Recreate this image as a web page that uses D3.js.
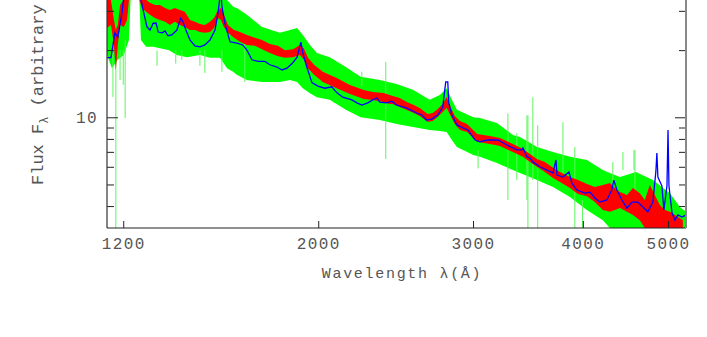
<!DOCTYPE html>
<html>
<head>
<meta charset="utf-8">
<script src="https://cdn.jsdelivr.net/npm/d3@7"></script>
<style>
body { margin: 0; background: #fff; }
text { font-family: "Liberation Mono", "DejaVu Sans Mono", monospace; fill: #555; }
</style>
</head>
<body>
<div id="spectrum"></div>
<script>
// composite spectrum (wavelength in Angstrom, flux arbitrary)
var greenWave = [1150,1165,1183,1202,1218,1224,1251,1257,1274,1298,1353,1381,1418,1467,1506,1546,1575,1600,1616,1659,1726,1809,1857,1892,1921,1957,1993,2061,2150,2235,2350,2456,2563,2678,2750,2800,2838,2876,3002,3055,3194,3330,3392,3482,3546,3699,3867,4043,4215,4293,4408,4596,4805,5025,5158,5241];
var greenHi = [37.2,37.2,41.3,41.3,45.8,50.7,50.7,45.8,43.5,41.3,39.2,39.2,37.2,37.2,35.4,37.2,33.6,31.3,30.9,28.8,25.4,23.9,24.6,25.1,23.4,21.1,19.4,18.6,16.8,15.2,14.7,14.1,13.3,12.0,12.6,13.5,12.0,10.8,10.0,9.93,9.43,8.33,8.15,7.68,7.36,6.99,6.65,6.44,5.80,5.63,5.40,5.69,5.23,4.57,3.96,3.77];
var greenLo = [19.0,16.6,18.1,19.0,22.2,35.4,35.4,22.2,20.7,20.7,20.0,19.0,18.6,19.0,18.5,18.5,16.6,16.0,15.5,14.7,14.4,14.4,14.7,14.4,13.5,12.8,12.3,12.0,10.8,10.0,9.72,9.33,9.05,8.77,8.68,8.59,7.91,7.36,6.78,6.65,6.24,5.80,5.63,5.40,5.23,4.87,4.39,3.84,3.46,3.19,3.06,3.06,3.06,3.06,3.06,3.06];

// single noisy pixels sticking out of the green spectrum
var spikeWave = [1168,1177,1190,1200,1206,1311,1377,1399,1467,1486,1554,1650,2242,2387,3040,3287,3365,3455,3464,3509,3554,3797,3917,3996,4327,4443,4573,4585];
var spikeHi = [20.0,18.1,20.0,20.0,22.2,19.9,20.0,20.0,20.0,20.0,20.0,22.0,16.0,17.7,7.14,10.4,8.5,10.2,10.2,12.3,9.2,9.5,7.36,4.26,6.3,7.0,7.1,7.14];
var spikeLo = [12.34,3.19,14.7,14.0,9.93,17.0,17.4,18.1,17.0,15.8,16.0,14.4,13.7,6.5,5.9,4.26,5.23,4.26,3.19,5.23,3.19,5.23,3.19,3.19,4.7,5.8,5.8,4.72];

var redWave = [1150,1162,1171,1177,1183,1190,1202,1212,1221,1247,1260,1274,1287,1304,1321,1339,1356,1374,1392,1410,1429,1448,1467,1486,1506,1522,1538,1550,1562,1579,1604,1629,1659,1694,1726,1762,1800,1833,1872,1906,1926,1947,1978,2024,2099,2173,2253,2307,2374,2412,2431,2476,2522,2569,2609,2664,2699,2735,2771,2800,2822,2860,2899,2953,3032,3136,3219,3330,3419,3482,3546,3621,3699,3767,3867,3949,4043,4127,4215,4293,4350,4408,4490,4561,4644,4705,4767,4830,4894,4960,5025,5091,5158,5198];
var redHi = [33.6,33.6,27.3,24.6,25.9,31.9,33.6,37.2,50.7,45.8,35.4,33.6,32.6,31.9,31.9,30.9,30.3,30.9,30.3,29.7,27.3,26.8,26.2,25.9,26.8,27.9,30.3,30.9,28.8,25.9,24.6,24.1,23.4,22.7,22.2,21.3,20.9,20.0,20.2,21.1,20.4,18.5,17.2,16.0,15.0,13.96,13.26,12.97,12.84,12.59,12.46,12.2,11.72,11.35,11.01,10.35,10.45,10.9,11.48,12.34,11.35,10.13,9.62,9.33,8.41,8.24,8.07,7.60,7.21,6.85,6.51,6.31,5.94,5.69,5.40,5.23,5.02,4.87,4.97,5.07,4.82,4.62,4.48,4.82,4.57,4.26,4.97,4.48,4.04,3.84,3.77,3.65,3.53,3.46];
var redLo = [25.1,25.9,21.1,16.3,21.1,25.9,25.4,27.3,37.2,35.4,30.9,29.7,28.8,27.9,27.3,26.8,25.9,26.8,25.9,25.4,24.6,24.6,24.1,23.9,24.1,25.1,27.9,27.3,25.4,23.9,22.7,21.8,21.1,20.9,20.2,19.4,18.8,18.5,18.6,19.0,18.1,16.6,15.5,14.4,13.5,12.71,12.08,11.96,11.72,11.48,11.48,11.12,10.78,10.45,10.13,9.53,9.62,10.03,10.56,11.01,10.35,9.33,8.77,8.59,7.76,7.60,7.43,6.99,6.65,6.31,6.00,5.69,5.35,5.13,4.82,4.53,4.43,4.17,3.84,3.77,3.84,3.92,3.77,3.65,3.46,3.19,3.19,3.13,3.13,3.13,3.06,3.06,3.06,3.06];

var blueWave = [1150,1162,1174,1183,1196,1202,1215,1241,1257,1264,1277,1287,1298,1308,1315,1329,1339,1349,1363,1381,1395,1403,1414,1429,1448,1467,1486,1506,1526,1538,1546,1550,1554,1566,1587,1616,1641,1659,1681,1708,1739,1762,1795,1819,1843,1872,1892,1911,1921,1941,1967,1998,2035,2072,2099,2133,2184,2213,2242,2277,2307,2332,2350,2393,2424,2456,2522,2589,2623,2657,2692,2735,2771,2793,2808,2815,2838,2876,2922,2961,3016,3055,3111,3177,3202,3279,3365,3410,3419,3455,3482,3509,3574,3641,3699,3728,3738,3797,3857,3887,3938,4021,4074,4127,4182,4259,4315,4338,4373,4431,4490,4549,4620,4681,4742,4805,4843,4856,4869,4920,4946,4986,5000,5012,5052,5091,5131,5185,5241];
var blueFlux = [18.5,18.5,23.9,22.9,29.3,35,48,40,33.6,30.3,25.4,24.6,26.4,26.4,24.1,23.9,24.4,23.2,23.4,24.6,27.8,26.8,24.6,22.2,20.9,20.7,21.1,22.2,24.6,29.3,34.6,36,31.3,26.4,21.8,21.5,21.1,20.0,18.1,17.8,17.8,17.2,16.8,16.3,16.6,17.6,18.6,21.7,19.4,16.8,14.3,13.8,13.5,13.7,12.9,12.3,11.96,11.6,11.35,11.6,11.96,12.2,11.7,11.6,11.8,11.35,11.0,10.45,10.24,9.72,9.82,10.24,11.1,14.4,14.4,11.6,10.24,9.24,8.96,8.77,7.91,7.76,7.91,7.91,7.91,7.51,7.14,7.14,7.29,6.65,6.57,6.31,6.0,5.80,5.63,6.44,5.51,5.40,5.69,5.07,4.72,4.57,4.62,4.35,4.17,4.26,4.72,5.23,4.72,4.26,3.92,4.17,4.17,3.96,3.77,4.17,5.69,6.92,5.40,4.93,3.84,4.93,8.77,4.93,3.73,3.46,3.65,3.57,3.65];

var xTicks = [1200, 2000, 3000, 4000, 5000];
var yMajor = [10];
var yMinor = [4, 5, 6, 7, 8, 9, 20, 30, 40];

var width = 707, height = 337;
var plot = {left: 107, right: 686, top: -40, bottom: 228};

var x = d3.scaleLog()
    .domain([1150, 5241])
    .range([plot.left, plot.right]);

var y = d3.scaleLog()
    .domain([3.19, 50.7])
    .range([plot.bottom, plot.top]);

var svg = d3.select("#spectrum")
    .append("svg")
    .attr("width", width)
    .attr("height", height);

svg.append("clipPath")
    .attr("id", "clip")
    .append("rect")
    .attr("x", plot.left)
    .attr("y", plot.top)
    .attr("width", plot.right - plot.left)
    .attr("height", plot.bottom - plot.top);

var g = svg.append("g").attr("clip-path", "url(#clip)");

var band = d3.area()
    .x(function(d) { return x(d.w); })
    .y0(function(d) { return y(d.lo); })
    .y1(function(d) { return y(d.hi); });

var green = greenWave.map(function(w, i) { return {w: w, hi: greenHi[i], lo: greenLo[i]}; });
var red = redWave.map(function(w, i) { return {w: w, hi: redHi[i], lo: redLo[i]}; });
var blue = blueWave.map(function(w, i) { return {w: w, f: blueFlux[i]}; });
var spikes = spikeWave.map(function(w, i) { return {w: w, hi: spikeHi[i], lo: spikeLo[i]}; });

g.append("path")
    .datum(green)
    .attr("d", band)
    .attr("fill", "#00ff00");

g.selectAll(".spike")
    .data(spikes)
    .enter().append("line")
    .attr("class", "spike")
    .attr("x1", function(d) { return x(d.w); })
    .attr("x2", function(d) { return x(d.w); })
    .attr("y1", function(d) { return y(d.hi); })
    .attr("y2", function(d) { return y(d.lo); })
    .attr("stroke", "#5cf55c")
    .attr("stroke-width", 1);

g.append("path")
    .datum(red)
    .attr("d", band)
    .attr("fill", "#ff0000");

g.append("path")
    .datum(blue)
    .attr("d", d3.line()
        .x(function(d) { return x(d.w); })
        .y(function(d) { return y(d.f); }))
    .attr("fill", "none")
    .attr("stroke", "#0000ff")
    .attr("stroke-width", 1.3);

// axes, ticks point inward like the original plot
var xAxis = svg.append("g")
    .attr("transform", "translate(0," + plot.bottom + ")")
    .call(d3.axisBottom(x).tickValues(xTicks).tickFormat(d3.format("d"))
        .tickSizeInner(-7).tickSizeOuter(0).tickPadding(10));
xAxis.select(".domain").remove();
xAxis.attr("color", "#222").attr("font-family", null).attr("font-size", null);
xAxis.selectAll("text").style("font-size", "16px").style("letter-spacing", "1.4px");

var yAxis = svg.append("g")
    .attr("transform", "translate(" + plot.left + ",0)")
    .call(d3.axisLeft(y).tickValues(yMajor).tickFormat(d3.format("d"))
        .tickSizeInner(-11).tickSizeOuter(0).tickPadding(9));
yAxis.select(".domain").remove();
yAxis.attr("color", "#222").attr("font-family", null).attr("font-size", null);
yAxis.selectAll("text").style("font-size", "16px").style("letter-spacing", "1.4px");

svg.append("g")
    .attr("transform", "translate(" + plot.left + ",0)")
    .attr("color", "#222")
    .call(d3.axisLeft(y).tickValues(yMinor).tickFormat("").tickSizeInner(-7).tickSizeOuter(0))
    .select(".domain").remove();

svg.append("g")
    .attr("transform", "translate(" + plot.right + ",0)")
    .attr("color", "#222")
    .call(d3.axisRight(y).tickValues(yMajor).tickFormat("").tickSizeInner(-11).tickSizeOuter(0))
    .select(".domain").remove();

svg.append("g")
    .attr("transform", "translate(" + plot.right + ",0)")
    .attr("color", "#222")
    .call(d3.axisRight(y).tickValues(yMinor).tickFormat("").tickSizeInner(-7).tickSizeOuter(0))
    .select(".domain").remove();

// frame
svg.append("line")
    .attr("x1", plot.left).attr("x2", plot.left)
    .attr("y1", 0).attr("y2", plot.bottom)
    .attr("stroke", "#333").attr("stroke-width", 1.2);
svg.append("line")
    .attr("x1", plot.left).attr("x2", plot.right)
    .attr("y1", plot.bottom).attr("y2", plot.bottom)
    .attr("stroke", "#222").attr("stroke-width", 1.2);
svg.append("line")
    .attr("x1", plot.right).attr("x2", plot.right)
    .attr("y1", 0).attr("y2", plot.bottom)
    .attr("stroke", "#888").attr("stroke-width", 2);

svg.append("text")
    .attr("x", 402)
    .attr("y", 277.5)
    .attr("text-anchor", "middle")
    .style("font-size", "15px")
    .style("letter-spacing", "1.7px")
    .text("Wavelength λ(Å)");

var ylab = svg.append("text")
    .attr("transform", "translate(43,185) rotate(-90)")
    .style("font-size", "17px");
ylab.append("tspan").text("Flux F");
ylab.append("tspan").attr("dy", 5).style("font-size", "12px").text("λ");
ylab.append("tspan").attr("dy", -5).text(" (arbitrary units)");
</script>
</body>
</html>
